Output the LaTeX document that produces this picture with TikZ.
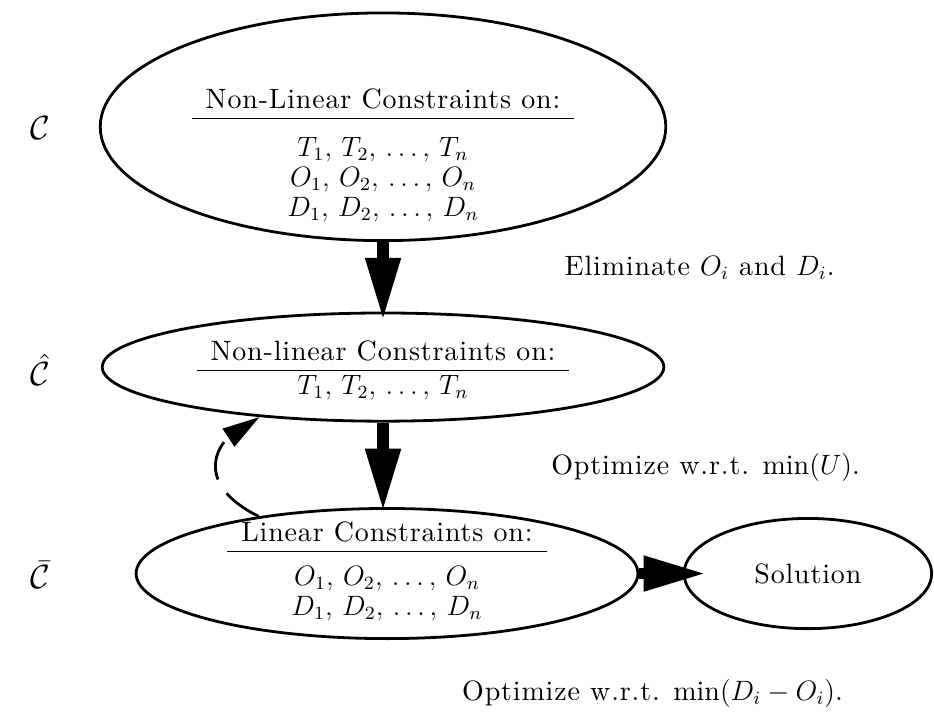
\documentclass[tikz,border=0pt]{standalone}
\usepackage{amsmath,amssymb}
\usepackage{fontspec}
\setmainfont{lmroman10-regular.otf}[LetterSpace=3]
\usepackage{tikz}
\usetikzlibrary{arrows.meta,positioning,shapes.geometric,calc}

\begin{document}
\begin{tikzpicture}[scale=1.0,
    every node/.style={font=\fontsize{12}{13}\selectfont},
    oval/.style={draw, ellipse, very thick, inner sep=0pt},
    fatarrow/.style={line width=5pt, -{Triangle[length=27pt,width=14pt]}},
    loopback/.style={very thick, dash pattern=on 17pt off 7pt, -{Triangle[length=16pt,width=9pt]}}]
    \useasboundingbox (0,0) rectangle (14.07,10.74);

    % Constraint sets
    \node[oval, minimum width=8.52cm, minimum height=3.43cm] (C) at (5.77,8.83) {};
    \node[oval, minimum width=8.46cm, minimum height=1.63cm] (Chat) at (5.77,5.21) {};
    \node[oval, minimum width=7.56cm, minimum height=1.96cm] (Cbar) at (5.83,2.10) {};
    \node[oval, minimum width=3.73cm, minimum height=1.66cm] (sol) at (12.17,2.10) {Solution};

    % Contents of the sets
    \node[anchor=north, inner sep=0pt] (Ctext) at (5.77,9.43) {\begin{tabular}{c}
        Non-Linear Constraints on:\\ \hline
        \rule{0pt}{16pt}$T_1,\,T_2,\,\ldots,\,T_n$\\
        $O_1,\,O_2,\,\ldots,\,O_n$\\
        $D_1,\,D_2,\,\ldots,\,D_n$
    \end{tabular}};
    \node[anchor=north, inner sep=0pt] (Chattext) at (5.77,5.63) {\begin{tabular}{c}
        Non-linear Constraints on:\\ \hline
        \rule{0pt}{10pt}$T_1,\,T_2,\,\ldots,\,T_n$
    \end{tabular}};
    \node[anchor=north, inner sep=0pt] (Cbartext) at (5.83,2.91) {\begin{tabular}{c}
        Linear Constraints on:\\ \hline
        \rule{0pt}{14.5pt}$O_1,\,O_2,\,\ldots,\,O_n$\\
        $D_1,\,D_2,\,\ldots,\,D_n$
    \end{tabular}};

    % Names on the left
    \node (lC) at (0.60,8.81) {\Large$\mathcal{C}$};
    \node (lChat) at (0.60,5.17) {\Large$\hat{\mathcal{C}}$};
    \node (lCbar) at (0.60,2.08) {\Large$\bar{\mathcal{C}}$};

    % Steps
    \draw[fatarrow] (C.south) -- ($(Chat.north)+(0,-0.14)$);
    \draw[fatarrow] (Chat.south) -- ($(Chat.south |- Cbar.north)+(0,-0.07)$);
    \draw[fatarrow] (Cbar.east) -- ($(sol.west)+(0.36,0)$);
    \draw[loopback] (Cbar.156) .. controls +(-1.0,0.5) and +(-0.6,-0.4) .. (Chat.202);

    % Step labels
    \node (elim) at (10.54,6.70) {Eliminate $O_i$ and $D_i$.};
    \node (optU) at (10.63,3.70) {Optimize w.r.t. $\min(U)$.};
    \node (optDO) at (9.83,0.30) {Optimize w.r.t. $\min(D_i - O_i)$.};
\end{tikzpicture}
\end{document}
